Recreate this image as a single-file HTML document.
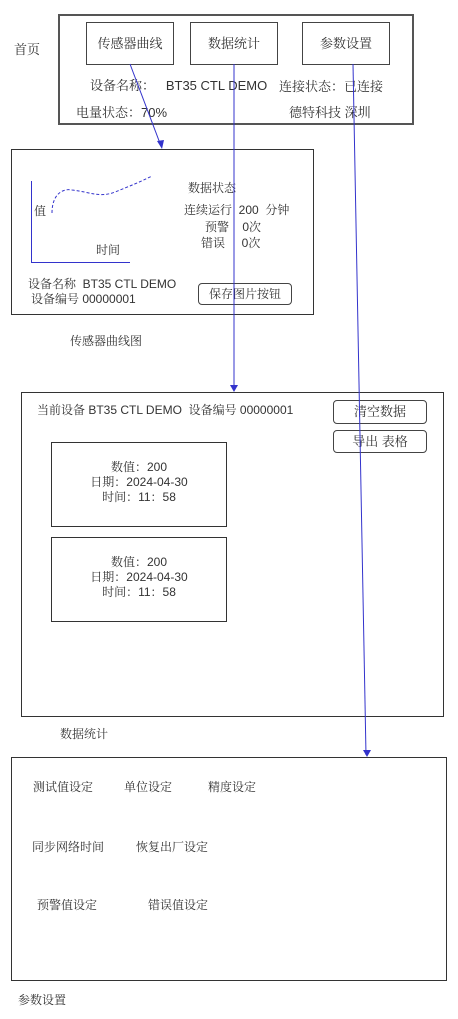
<!DOCTYPE html>
<html><head><meta charset="utf-8"><style>
body{margin:0;width:458px;height:1019px;background:#fff;position:relative;font-family:"Liberation Sans","Noto Serif CJK SC","Noto Sans CJK SC",serif;color:#333;overflow:hidden}
.b{position:absolute;border:1px solid #333;box-sizing:border-box}
.t{position:absolute;font-size:12px;white-space:nowrap;line-height:14px}
.btn{position:absolute;border:1px solid #444;box-sizing:border-box;font-size:13px;text-align:center}
.r{border-radius:4px}
</style></head><body>
<div class="b" style="left:58px;top:14px;width:356px;height:111px;border:2px solid #555"></div>
<div class="btn" style="left:86px;top:22px;width:88px;height:43px;line-height:41px">传感器曲线</div>
<div class="btn" style="left:190px;top:22px;width:88px;height:43px;line-height:41px">数据统计</div>
<div class="btn" style="left:302px;top:22px;width:88px;height:43px;line-height:41px">参数设置</div>
<div class="t" style="left:14px;top:43px;font-size:13px">首页</div>
<div class="t" style="left:90px;top:79px;font-size:13px">设备名称：&nbsp;&nbsp;&nbsp;BT35 CTL DEMO</div>
<div class="t" style="left:279px;top:80px;font-size:13px">连接状态：已连接</div>
<div class="t" style="left:76px;top:106px;font-size:13px">电量状态：70%</div>
<div class="t" style="left:289px;top:106px;font-size:13px">德特科技 深圳</div>

<div class="b" style="left:11px;top:149px;width:303px;height:166px"></div>
<div style="position:absolute;left:31px;top:181px;width:1px;height:82px;background:#33c"></div>
<div style="position:absolute;left:31px;top:262px;width:99px;height:1px;background:#33c"></div>
<div class="t" style="left:34px;top:204px">值</div>
<div class="t" style="left:96px;top:243px">时间</div>
<div class="t" style="left:188px;top:181px">数据状态</div>
<div class="t" style="left:184px;top:203px">连续运行&nbsp; 200&nbsp; 分钟</div>
<div class="t" style="left:205px;top:220px">预警&nbsp;&nbsp;&nbsp; 0次</div>
<div class="t" style="left:201px;top:236px">错误&nbsp;&nbsp;&nbsp;&nbsp; 0次</div>
<div class="t" style="left:28px;top:277px">设备名称&nbsp; BT35 CTL DEMO</div>
<div class="t" style="left:31px;top:292px">设备编号 00000001</div>
<div class="btn r" style="left:198px;top:283px;width:94px;height:22px;line-height:20px;font-size:12px">保存图片按钮</div>
<div class="t" style="left:70px;top:334px">传感器曲线图</div>

<div class="b" style="left:21px;top:392px;width:423px;height:325px"></div>
<div class="t" style="left:37px;top:403px">当前设备 BT35 CTL DEMO&nbsp; 设备编号 00000001</div>
<div class="btn r" style="left:333px;top:400px;width:94px;height:24px;line-height:22px">清空数据</div>
<div class="btn r" style="left:333px;top:430px;width:94px;height:23px;line-height:21px">导出 表格</div>
<div class="b" style="left:51px;top:442px;width:176px;height:85px"></div>
<div class="t" style="left:51px;top:460px;width:176px;text-align:center;line-height:15px">数值：200<br>日期：2024-04-30<br>时间：11：58</div>
<div class="b" style="left:51px;top:537px;width:176px;height:85px"></div>
<div class="t" style="left:51px;top:555px;width:176px;text-align:center;line-height:15px">数值：200<br>日期：2024-04-30<br>时间：11：58</div>
<div class="t" style="left:60px;top:727px">数据统计</div>

<div class="b" style="left:11px;top:757px;width:436px;height:224px"></div>
<div class="t" style="left:33px;top:780px">测试值设定</div>
<div class="t" style="left:124px;top:780px">单位设定</div>
<div class="t" style="left:208px;top:780px">精度设定</div>
<div class="t" style="left:32px;top:840px">同步网络时间</div>
<div class="t" style="left:136px;top:840px">恢复出厂设定</div>
<div class="t" style="left:37px;top:898px">预警值设定</div>
<div class="t" style="left:148px;top:898px">错误值设定</div>
<div class="t" style="left:18px;top:993px">参数设置</div>

<svg style="position:absolute;left:0;top:0" width="458" height="1019">
<path d="M52 213 C52 195,62 188,72 190 C90 192,100 198,115 192 C130 186,140 182,152 176" fill="none" stroke="#33c" stroke-dasharray="3,2"/>
<g stroke="#33c" stroke-width="1" fill="none">
<line x1="130" y1="64" x2="161" y2="146"/>
<line x1="234" y1="64" x2="234" y2="390"/>
<line x1="353" y1="64" x2="366" y2="755"/>
</g>
<g fill="#33c">
<polygon points="162,149 157,141 164,140"/>
<polygon points="234,392 230,385 238,385"/>
<polygon points="367,757 363,750 371,750"/>
</g>
</svg>
</body></html>
